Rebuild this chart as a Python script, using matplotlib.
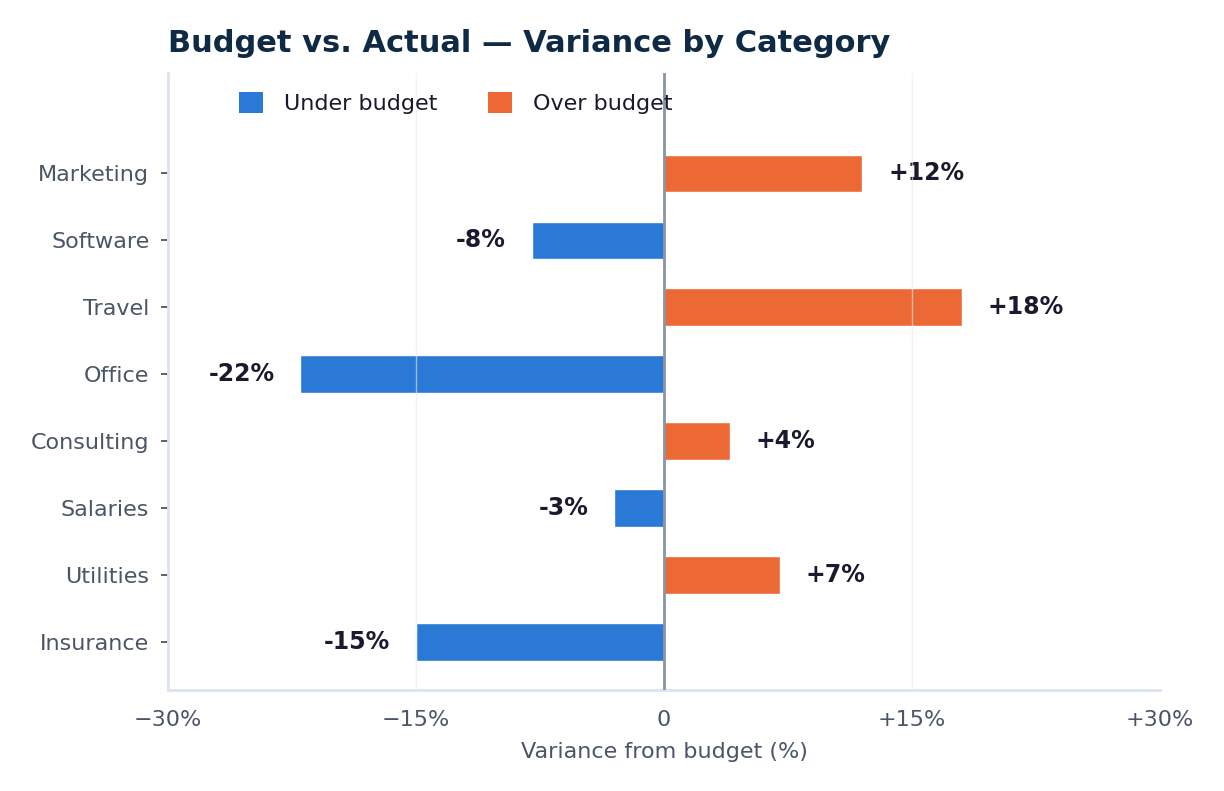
import matplotlib
matplotlib.use("Agg")
import matplotlib.pyplot as plt
from matplotlib.patches import Patch

plt.rcParams["font.family"] = ["DejaVu Sans"]

categories = ["Marketing", "Software", "Travel", "Office", "Consulting", "Salaries", "Utilities", "Insurance"]
variance = [12, -8, 18, -22, 4, -3, 7, -15]
xticks = [-30, -15, 0, 15, 30]
xticklabels = ["\u221230%", "\u221215%", "0", "+15%", "+30%"]

BLUE = "#2a79d6"
ORANGE = "#ec6936"
TEXT = "#4a5568"
DARK = "#1a1a2e"

fig = plt.figure(figsize=(12.24, 7.91), dpi=100)
ax = fig.add_axes([168/1224, 1-690/791, (1160-168)/1224, (690-73)/791])

n = len(categories)
ypos = list(range(n - 1, -1, -1))
colors = [ORANGE if v > 0 else BLUE for v in variance]
ax.barh(ypos, variance, height=0.56, color=colors, edgecolor="white", linewidth=1.0, zorder=2)

for y, v in zip(ypos, variance):
    if v > 0:
        ax.text(v + 1.55, y, f"+{v}%", ha="left", va="center", fontsize=17, fontweight="bold", color=DARK)
    else:
        ax.text(v - 1.55, y, f"{v}%", ha="right", va="center", fontsize=17, fontweight="bold", color=DARK)

ax.axvline(0, color="#8a94a3", linewidth=2.0, zorder=3)
for xv in [-15, 15]:
    ax.axvline(xv, color="#e8edf3", linewidth=1.0, alpha=0.6, zorder=3)

ax.set_xlim(-30, 30)
ax.set_ylim(-0.72, n - 1 + 1.5)
ax.set_xticks(xticks)
ax.set_xticklabels(xticklabels)
ax.set_yticks(ypos)
ax.set_yticklabels(categories)
ax.tick_params(axis="y", colors=TEXT, labelsize=16, length=5, width=1.3, pad=8.5, labelcolor=TEXT)
ax.tick_params(axis="x", colors=TEXT, labelsize=16, length=0, pad=14.5, labelcolor=TEXT)
for s in ["top", "right"]:
    ax.spines[s].set_visible(False)
for s in ["left", "bottom"]:
    ax.spines[s].set_color("#dde4ee")
    ax.spines[s].set_linewidth(2.0)

ax.set_xlabel("Variance from budget (%)", fontsize=16, color=TEXT, labelpad=8.5)

handles = [Patch(facecolor=BLUE, label="Under budget"), Patch(facecolor=ORANGE, label="Over budget")]
ax.legend(handles=handles, loc="upper left", bbox_to_anchor=(0.0515, 1.002), ncol=2, frameon=False,
          fontsize=16, handlelength=1.08, handleheight=1.08, columnspacing=2.25, handletextpad=0.95,
          labelcolor=DARK)

fig.text(168/1224, 1-44/791, "Budget vs. Actual \u2014 Variance by Category", fontsize=22, fontweight="bold",
         color="#0f2a44", ha="left", va="center")

fig.savefig("out.png", dpi=100, facecolor="white")
